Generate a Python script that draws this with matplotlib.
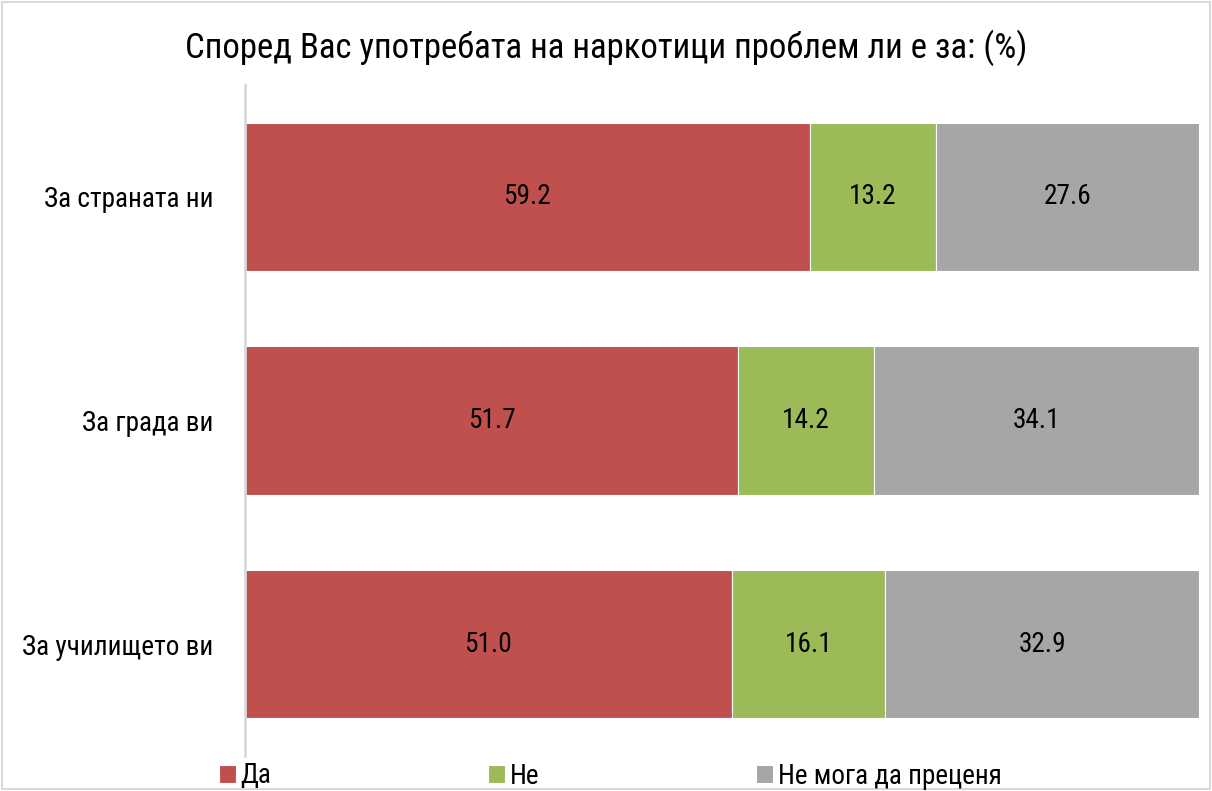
import matplotlib
matplotlib.use("Agg")
from matplotlib import pyplot as plt
from matplotlib import font_manager
from matplotlib.patches import Rectangle
import numpy as np

categories = ["За страната ни", "За града ви", "За училището ви"]
series_names = ["Да", "Не", "Не мога да преценя"]
da = [59.2, 51.7, 51.0]
ne = [13.2, 14.2, 16.1]
ne_moga = [27.6, 34.1, 32.9]
colors = ["#C0504D", "#9BBB59", "#A6A6A6"]

names = {f.name for f in font_manager.fontManager.ttflist}
fam = "Liberation Sans"
for cand in ["Liberation Sans Narrow", "Roboto Condensed", "Open Sans Condensed"]:
    if cand in names:
        fam = cand
        break
plt.rcParams["font.family"] = [fam, "DejaVu Sans"]

fig = plt.figure(figsize=(12.12, 7.91), dpi=100)
ax = fig.add_axes([245 / 1212, 35 / 791, 954 / 1212, 671 / 791])

y = np.arange(len(categories))
left = np.zeros(len(categories))
for vals, name, c in zip([da, ne, ne_moga], series_names, colors):
    bars = ax.barh(y, vals, left=left, height=0.662, color=c, edgecolor="white",
                   linewidth=0.8, label=name)
    for b, v in zip(bars, vals):
        ax.text(b.get_x() + b.get_width() / 2, b.get_y() + b.get_height() / 2,
                f"{v:.1f}", ha="center", va="center", fontsize=19.7, color="black")
    left += np.array(vals)

ax.set_xlim(0, 100)
ax.set_ylim(2.5, -0.5)
ax.set_yticks(y)
ax.set_yticklabels(categories, fontsize=19.6)
ax.tick_params(axis="y", length=0, pad=23)
ax.set_xticks([])
for s in ["top", "right", "bottom"]:
    ax.spines[s].set_visible(False)
ax.spines["left"].set_color("#D9D9D9")
ax.spines["left"].set_linewidth(2)

fig.text(0.5, 1 - 48 / 791, "Според Вас употребата на наркотици проблем ли е за: (%)",
         fontsize=25, ha="center", va="center")

fig.legend(loc="center left", bbox_to_anchor=(219 / 1212, 15 / 791), ncol=3,
           frameon=False, fontsize=19.5, handlelength=0.62, handleheight=0.62,
           handletextpad=0.18, columnspacing=8.0, borderaxespad=0, borderpad=0)

fig.patches.append(Rectangle((0.002, 0.002), 0.996, 0.996, transform=fig.transFigure,
                             fill=False, edgecolor="#D9D9D9", linewidth=1.5))

fig.savefig("out.png", dpi=100)
